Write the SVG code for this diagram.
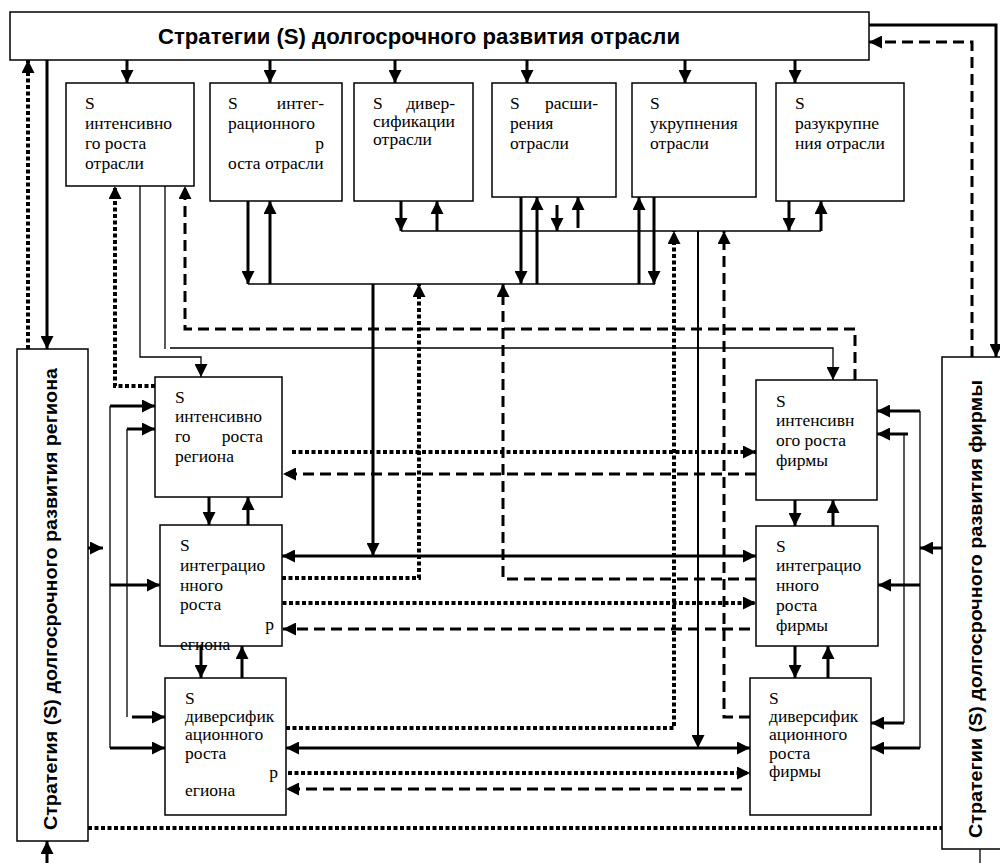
<svg xmlns="http://www.w3.org/2000/svg" width="1000" height="863" viewBox="0 0 1000 863">
<style>
.box{fill:#fff;stroke:#000;stroke-width:1.5}
.t{font-family:'Liberation Serif','DejaVu Serif','Times New Roman',serif;font-size:17.5px;fill:#000}
.h{font-family:'Liberation Sans',Arial,sans-serif;font-weight:bold;fill:#000}
.thick{stroke:#000;stroke-width:3;fill:none}
.thin{stroke:#000;stroke-width:1.3;fill:none}
.mid{stroke:#000;stroke-width:2;fill:none}
.dot{stroke:#000;stroke-width:4;stroke-dasharray:4 2.5;fill:none}
.dash{stroke:#000;stroke-width:3;stroke-dasharray:11 6;fill:none}
</style>
<defs>
<marker id="a" viewBox="0 0 10 10" refX="10" refY="5" markerWidth="13" markerHeight="13" markerUnits="userSpaceOnUse" orient="auto-start-reverse">
<path d="M0,0 L10,5 L0,10 z" fill="#000"/>
</marker>
</defs>
<rect width="1000" height="863" fill="#fff"/>
<g id="connectors">
<g marker-end="url(#a)">
<path class="thick" d="M127,60 V83"/>
<path class="thick" d="M270,60 V83"/>
<path class="thick" d="M395,60 V83"/>
<path class="thick" d="M527,60 V83"/>
<path class="thick" d="M685,60 V83"/>
<path class="thick" d="M795,60 V83"/>
<path class="thick" d="M869,25 H996 V357"/>
<path class="dash" d="M972,357 V42 H869"/>
<path class="dot" d="M28,349 V60"/>
<path class="thick" d="M47,60 V349"/>
<path class="thick" d="M47,863 V841"/>
<path class="thin" d="M140,186 V357 H201 V377"/>
<path class="thin" d="M170,348 H833 V380"/>
<path class="dot" d="M155,386 H115 V186"/>
<path class="dash" d="M855,380 V329 H185 V186"/>
<path class="thick" d="M248,201 V284"/>
<path class="thick" d="M270,284 V201"/>
<path class="thick" d="M521,197 V284"/>
<path class="thick" d="M537,284 V197"/>
<path class="thick" d="M639,284 V197"/>
<path class="thick" d="M654,197 V284"/>
<path class="thick" d="M401,201 V231"/>
<path class="thick" d="M437,231 V201"/>
<path class="thick" d="M557,205 V231"/>
<path class="thick" d="M578,228 V197"/>
<path class="thick" d="M789,201 V231"/>
<path class="thick" d="M821,231 V201"/>
<path class="thick" d="M373,284 V556"/>
<path class="dot" d="M282,578 H419 V284"/>
<path class="dash" d="M756,579 H503 V284"/>
<path class="mid" d="M698,231 V748"/>
<path class="dot" d="M286,728 H674 V231"/>
<path class="dash" d="M750,717 H724 V231"/>
<path class="dot" d="M292,452 H756"/>
<path class="dash" d="M756,474 H283"/>
<path class="thick" d="M282,556 H756" marker-start="url(#a)"/>
<path class="dot" d="M276,603 H756"/>
<path class="dash" d="M750,629 H283"/>
<path class="thick" d="M286,748 H750" marker-start="url(#a)"/>
<path class="dot" d="M288,773 H750"/>
<path class="dash" d="M742,789 H286"/>
<path class="thick" d="M110,406 H155"/>
<path class="thick" d="M110,585 H160"/>
<path class="thick" d="M110,748 H165"/>
<path class="thick" d="M127,429 H155"/>
<path class="thick" d="M132,717 H165"/>
<path class="thick" d="M88,548 H103"/>
<path class="thick" d="M209,497 V525"/>
<path class="thick" d="M248,525 V497"/>
<path class="thick" d="M201,646 V678"/>
<path class="thick" d="M242,678 V646"/>
<path class="thick" d="M795,500 V526"/>
<path class="thick" d="M833,526 V500"/>
<path class="thick" d="M795,646 V678"/>
<path class="thick" d="M828,678 V646"/>
<path class="thick" d="M920,411 H877"/>
<path class="thick" d="M920,585 H878"/>
<path class="thick" d="M920,748 H871"/>
<path class="thick" d="M908,434 H877"/>
<path class="thick" d="M904,723 H871"/>
<path class="thick" d="M942,548 H920"/>
</g>
<path class="thin" d="M165,186 V349"/>
<path class="thin" d="M248,284 H655"/>
<path class="thin" d="M401,231 H821"/>
<path class="thin" d="M110,406 V748"/>
<path class="thin" d="M127,429 V717"/>
<path class="thin" d="M920,411 V748"/>
<path class="thin" d="M904,434 V723"/>
<path class="dot" d="M88,828 H942"/>
<path class="thin" d="M980,849 V863"/>
</g>
<g id="top">
<rect class="box" x="10" y="12" width="859" height="48"/>
<text class="h" x="419" y="44" font-size="21.5" text-anchor="middle" textLength="522" lengthAdjust="spacingAndGlyphs">Стратегии (S) долгосрочного развития отрасли</text>
</g>
<g id="region">
<rect class="box" x="17" y="349" width="71" height="492"/>
<text class="h" font-size="19" text-anchor="middle" transform="translate(57,599) rotate(-90)" textLength="462" lengthAdjust="spacingAndGlyphs">Стратегия (S) долгосрочного развития региона</text>
</g>
<g id="firm">
<rect class="box" x="942" y="357" width="70" height="492"/>
<text class="h" font-size="19" text-anchor="middle" transform="translate(982,609) rotate(-90)" textLength="458" lengthAdjust="spacingAndGlyphs">Стратегии (S) долгосрочного развития фирмы</text>
</g>
<g id="b1">
<rect class="box" x="66" y="83" width="128" height="103"/>
<text class="t" x="85" y="109">S</text>
<text class="t" x="85" y="129">интенсивно</text>
<text class="t" x="85" y="149">го роста</text>
<text class="t" x="85" y="169">отрасли</text>
</g>
<g id="b2">
<rect class="box" x="210" y="83" width="132" height="118"/>
<text class="t" x="228" y="109">S</text>
<text class="t" x="324" y="109" text-anchor="end">интег-</text>
<text class="t" x="228" y="129">рационного</text>
<text class="t" x="324" y="149" text-anchor="end">р</text>
<text class="t" x="228" y="169">оста отрасли</text>
</g>
<g id="b3">
<rect class="box" x="354" y="83" width="119" height="118"/>
<text class="t" x="373" y="109">S</text>
<text class="t" x="455" y="109" text-anchor="end">дивер-</text>
<text class="t" x="373" y="127">сификации</text>
<text class="t" x="373" y="145">отрасли</text>
</g>
<g id="b4">
<rect class="box" x="492" y="83" width="124" height="114"/>
<text class="t" x="510" y="109">S</text>
<text class="t" x="598" y="109" text-anchor="end">расши-</text>
<text class="t" x="510" y="129">рения</text>
<text class="t" x="510" y="149">отрасли</text>
</g>
<g id="b5">
<rect class="box" x="632" y="83" width="124" height="114"/>
<text class="t" x="650" y="109">S</text>
<text class="t" x="650" y="129">укрупнения</text>
<text class="t" x="650" y="149">отрасли</text>
</g>
<g id="b6">
<rect class="box" x="776" y="83" width="128" height="118"/>
<text class="t" x="795" y="109">S</text>
<text class="t" x="795" y="129">разукрупне</text>
<text class="t" x="795" y="149">ния отрасли</text>
</g>
<g id="r1">
<rect class="box" x="155" y="377" width="127" height="120"/>
<text class="t" x="175" y="403">S</text>
<text class="t" x="175" y="422">интенсивно</text>
<text class="t" x="175" y="442">го</text>
<text class="t" x="263" y="442" text-anchor="end">роста</text>
<text class="t" x="175" y="462">региона</text>
</g>
<g id="r2">
<rect class="box" x="160" y="525" width="122" height="121"/>
<text class="t" x="180" y="551">S</text>
<text class="t" x="180" y="571">интеграцио</text>
<text class="t" x="180" y="591">нного</text>
<text class="t" x="180" y="610">роста</text>
<text class="t" x="274" y="630" text-anchor="end">р</text>
<text class="t" x="180" y="650">егиона</text>
</g>
<g id="r3">
<rect class="box" x="165" y="678" width="121" height="137"/>
<text class="t" x="185" y="704">S</text>
<text class="t" x="185" y="722">диверсифик</text>
<text class="t" x="185" y="740">ационного</text>
<text class="t" x="185" y="759">роста</text>
<text class="t" x="278" y="778" text-anchor="end">р</text>
<text class="t" x="185" y="796">егиона</text>
</g>
<g id="f1">
<rect class="box" x="756" y="380" width="121" height="120"/>
<text class="t" x="776" y="407">S</text>
<text class="t" x="776" y="426">интенсивн</text>
<text class="t" x="776" y="446">ого роста</text>
<text class="t" x="776" y="466">фирмы</text>
</g>
<g id="f2">
<rect class="box" x="756" y="526" width="122" height="120"/>
<text class="t" x="776" y="552">S</text>
<text class="t" x="776" y="571">интеграцио</text>
<text class="t" x="776" y="591">нного</text>
<text class="t" x="776" y="611">роста</text>
<text class="t" x="776" y="631">фирмы</text>
</g>
<g id="f3">
<rect class="box" x="750" y="678" width="121" height="137"/>
<text class="t" x="769" y="704">S</text>
<text class="t" x="769" y="722">диверсифик</text>
<text class="t" x="769" y="740">ационного</text>
<text class="t" x="769" y="759">роста</text>
<text class="t" x="769" y="777">фирмы</text>
</g>
</svg>
